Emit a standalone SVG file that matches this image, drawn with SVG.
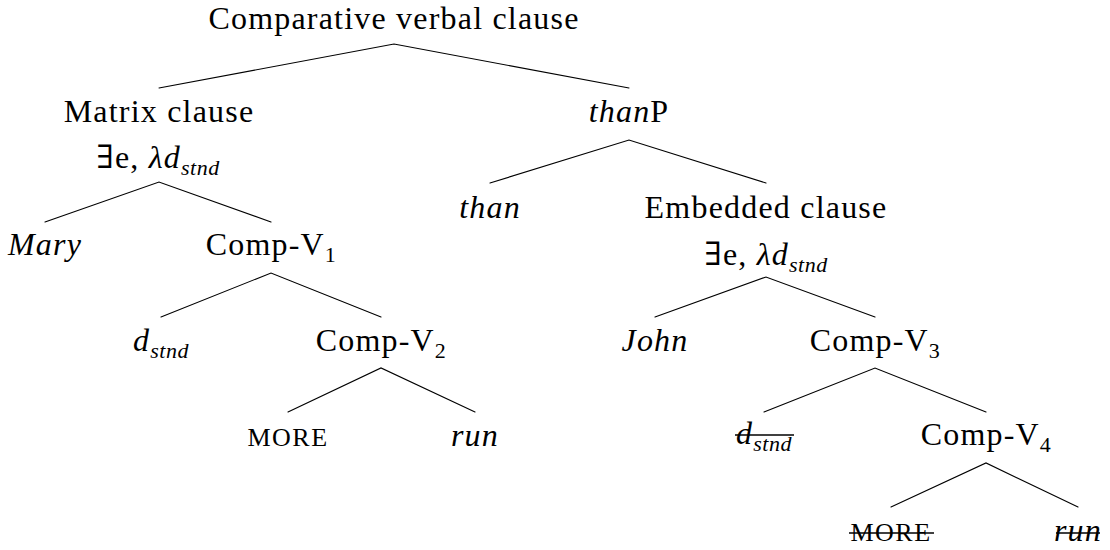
<svg xmlns="http://www.w3.org/2000/svg" width="1110" height="550" viewBox="0 0 1110 550">
  <style>
    text { font-family: "Liberation Serif", "DejaVu Serif", serif; font-size: 32px; letter-spacing: 1.2px; fill: #000; text-anchor: middle; }
    .it { font-style: italic; }
    .sub { font-size: 22px; letter-spacing: 0.5px; }
    .sc { font-size: 26px; letter-spacing: 1.5px; }
    .edge { stroke: #000; stroke-width: 1.15; fill: none; stroke-linecap: round; }
    .strike { stroke: #000; stroke-width: 1.3; }
  </style>

  <!-- tree branches: each path runs left child -> parent -> right child -->
  <g id="connectors">
    <path class="edge" d="M159 88 L394 44 L629 88"/>
    <path class="edge" d="M45 222 L159 182 L271 222"/>
    <path class="edge" d="M490 183 L629 140 L766 183"/>
    <path class="edge" d="M161 317 L271 273 L381 317"/>
    <path class="edge" d="M655 317 L766 277 L875 317"/>
    <path class="edge" d="M288 412 L381 368 L475 412"/>
    <path class="edge" d="M764 412 L875 368 L986 412"/>
    <path class="edge" d="M891 507 L986 463 L1078 507"/>
  </g>

  <g id="root">
    <text x="394" y="29">Comparative verbal clause</text>
  </g>

  <g id="matrix-clause">
    <text x="159" y="122">Matrix clause</text>
    <text x="158" y="168">∃e, <tspan class="it">λd</tspan><tspan class="it sub" dy="7">stnd</tspan></text>
  </g>

  <g id="thanP">
    <text x="629" y="122"><tspan class="it">than</tspan>P</text>
  </g>

  <g id="mary">
    <text class="it" x="45" y="255">Mary</text>
  </g>

  <g id="comp-v1">
    <text x="271" y="255">Comp-V<tspan class="sub" dy="7">1</tspan></text>
  </g>

  <g id="than">
    <text class="it" x="490" y="218">than</text>
  </g>

  <g id="embedded-clause">
    <text x="766" y="218">Embedded clause</text>
    <text x="766" y="265">∃e, <tspan class="it">λd</tspan><tspan class="it sub" dy="7">stnd</tspan></text>
  </g>

  <g id="d-stnd">
    <text x="161" y="351"><tspan class="it">d</tspan><tspan class="it sub" dy="7">stnd</tspan></text>
  </g>

  <g id="comp-v2">
    <text x="381" y="351">Comp-V<tspan class="sub" dy="7">2</tspan></text>
  </g>

  <g id="john">
    <text class="it" x="655" y="351">John</text>
  </g>

  <g id="comp-v3">
    <text x="875" y="351">Comp-V<tspan class="sub" dy="7">3</tspan></text>
  </g>

  <g id="more">
    <text class="sc" x="288" y="446">MORE</text>
  </g>

  <g id="run">
    <text class="it" x="475" y="446">run</text>
  </g>

  <!-- deleted copy of the degree argument -->
  <g id="d-stnd-deleted">
    <text x="764" y="444"><tspan class="it">d</tspan><tspan class="it sub" dy="7">stnd</tspan></text>
    <line class="strike" x1="735" y1="435" x2="794" y2="435"/>
  </g>

  <g id="comp-v4">
    <text x="986" y="445">Comp-V<tspan class="sub" dy="7">4</tspan></text>
  </g>

  <g id="more-deleted">
    <text class="sc" x="891" y="541">MORE</text>
    <line class="strike" x1="849" y1="533" x2="934" y2="533"/>
  </g>

  <g id="run-deleted">
    <text class="it" x="1078" y="541">run</text>
    <line class="strike" x1="1056" y1="533" x2="1100" y2="533"/>
  </g>
</svg>
